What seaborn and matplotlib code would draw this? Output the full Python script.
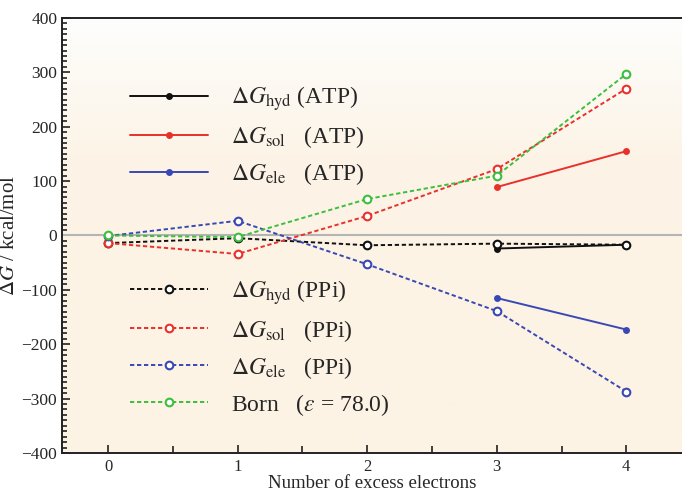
import numpy as np
import pandas as pd
import seaborn as sns
import matplotlib.pyplot as plt
from matplotlib.colors import LinearSegmentedColormap
from matplotlib.ticker import MultipleLocator

electrons = [0, 1, 2, 3, 4]
electrons_atp = [3, 4]

hyd_ppi = [-14, -5, -18, -15, -17]
sol_ppi = [-14, -34, 36, 122, 270]
ele_ppi = [-1, 27, -53, -139, -287]
born = [0, -3, 67, 110, 297]

hyd_atp = [-24, -17]
sol_atp = [89, 155]
ele_atp = [-115, -173]

black = "#111111"
red = "#e8312a"
blue = "#3a48b5"
green = "#3cbf3c"

sns.set_theme(style="ticks")
plt.rcParams["font.family"] = ["Liberation Serif", "DejaVu Serif"]
plt.rcParams["mathtext.fontset"] = "stix"

fig = plt.figure(figsize=(6.82, 4.98), dpi=100)
ax = fig.add_axes([0.091, 0.0904, 0.909, 0.8735])

# background: white at the top fading to beige
cmap = LinearSegmentedColormap.from_list("bg", ["#fefefd", "#fcf4e7", "#fcf3e5"])
grad = np.linspace(0, 1, 256).reshape(-1, 1)
grad = np.clip(grad * 1.6, 0, 1)
ax.imshow(grad, extent=[-0.355, 4.43, -400, 400], aspect="auto", cmap=cmap,
          origin="upper", zorder=0)

ax.axhline(0, color="#b4b4b4", lw=1.5, zorder=1)

solid = dict(lw=1.4, marker="o", markersize=5, markeredgewidth=0)
dash = dict(lw=1.4, linestyle=(0, (2.2, 1.4)), marker="o", markersize=5.5,
            markerfacecolor="white", markeredgewidth=1.5)

h1 = sns.lineplot(x=electrons_atp, y=hyd_atp, color=black, ax=ax, **solid).lines[-1]
h2 = sns.lineplot(x=electrons_atp, y=sol_atp, color=red, ax=ax, **solid).lines[-1]
h3 = sns.lineplot(x=electrons_atp, y=ele_atp, color=blue, ax=ax, **solid).lines[-1]
h4 = sns.lineplot(x=electrons, y=hyd_ppi, color=black, ax=ax,
                  markeredgecolor=black, **dash).lines[-1]
h5 = sns.lineplot(x=electrons, y=sol_ppi, color=red, ax=ax,
                  markeredgecolor=red, **dash).lines[-1]
h6 = sns.lineplot(x=electrons, y=ele_ppi, color=blue, ax=ax,
                  markeredgecolor=blue, **dash).lines[-1]
h7 = sns.lineplot(x=electrons, y=born, color=green, ax=ax,
                  markeredgecolor=green, **dash).lines[-1]

ax.set_xlim(-0.355, 4.43)
ax.set_ylim(-400, 400)
ax.set_xticks(electrons)
ax.xaxis.set_minor_locator(MultipleLocator(0.5))
ax.yaxis.set_major_locator(MultipleLocator(100))
ax.yaxis.set_minor_locator(MultipleLocator(10))
ax.tick_params(which="both", direction="in", labelsize=12.5, color="#222222")
ax.tick_params(which="major", length=6, width=1.2)
ax.tick_params(which="minor", length=3.5, width=1.2)
ax.tick_params(axis="x", which="minor", length=5)
ax.tick_params(axis="x", which="major", pad=4, labelsize=12)
ax.spines["right"].set_visible(False)
for s in ["left", "bottom", "top"]:
    ax.spines[s].set_linewidth(1.4)
    ax.spines[s].set_color("#222222")

ax.set_xlabel("Number of excess electrons", fontsize=13.5, labelpad=0)
ax.set_ylabel(r"$\Delta G$ / kcal/mol", fontsize=15, labelpad=2)

leg_kw = dict(frameon=False, fontsize=17, handlelength=3.3, handletextpad=1.0,
              labelspacing=0.47, loc="upper left", borderaxespad=0)
lab1 = [r"$\Delta G_{\rm hyd}$ (ATP)", r"$\Delta G_{\rm sol}$   (ATP)",
        r"$\Delta G_{\rm ele}$   (ATP)"]
lab2 = [r"$\Delta G_{\rm hyd}$ (PPi)", r"$\Delta G_{\rm sol}$   (PPi)",
        r"$\Delta G_{\rm ele}$   (PPi)", r"Born   ($\varepsilon$ = 78.0)"]
leg1 = ax.legend([h1, h2, h3], lab1, bbox_to_anchor=(0.094, 0.869), **leg_kw)
ax.add_artist(leg1)
ax.legend([h4, h5, h6, h7], lab2, bbox_to_anchor=(0.094, 0.4246), **leg_kw)

fig.savefig("out.png", dpi=100)
